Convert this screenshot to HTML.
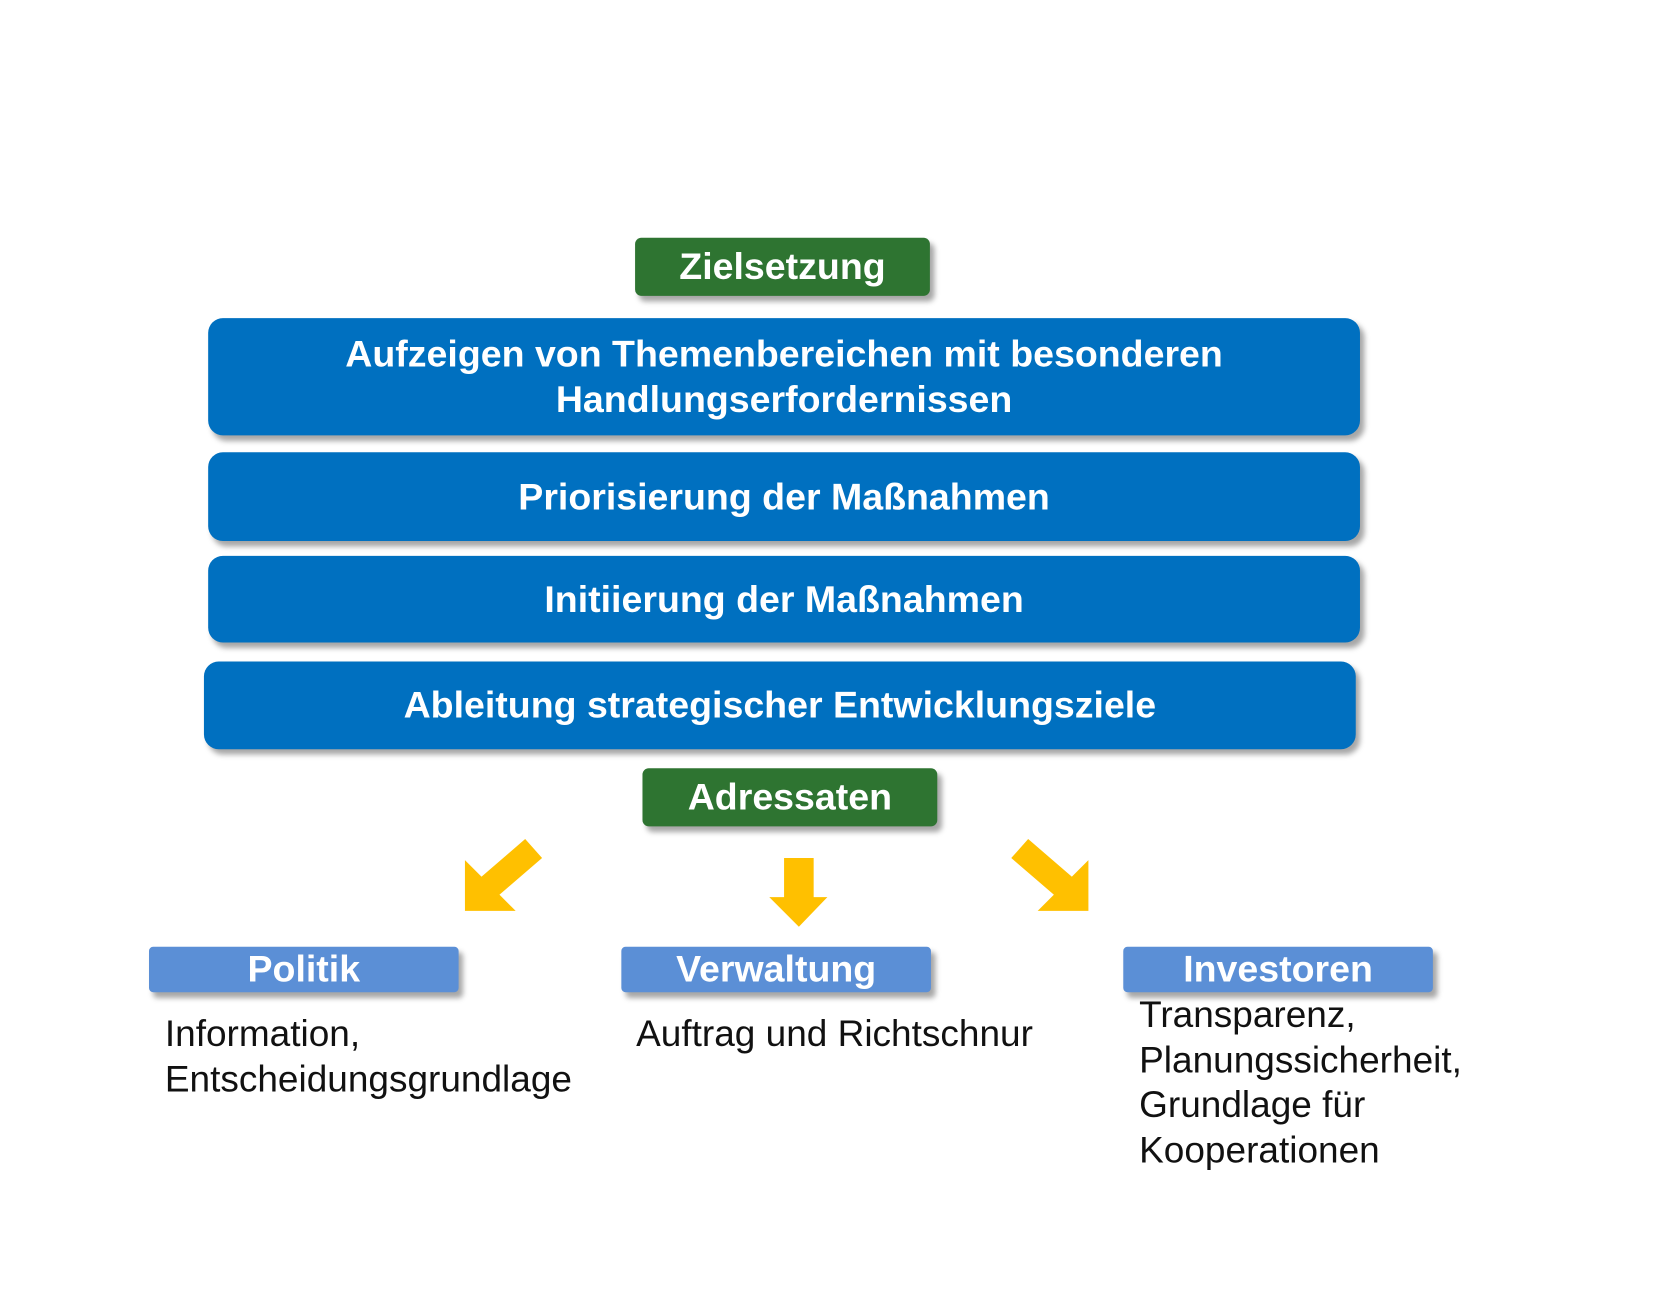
<!DOCTYPE html>
<html><head><meta charset="utf-8"><style>
html,body{margin:0;padding:0;background:#fff;}
body{width:1656px;height:1242px;position:relative;overflow:hidden;font-family:"Liberation Sans",Arial,sans-serif;}
#w{position:absolute;left:0;top:0;width:1656px;height:1242px;transform:scale(1.0567);transform-origin:0 0;}
.b{position:absolute;color:#fff;font-weight:bold;text-align:center;display:flex;align-items:center;justify-content:center;box-shadow:4px 5px 5px rgba(0,0,0,0.35);white-space:nowrap;}
.g{background:#2e7431;border-radius:6px;font-size:35.5px;}
.bl{background:#0070c0;border-radius:14px;font-size:35.5px;line-height:43px;}
.lb{background:#5b8fd6;border-radius:4px;font-size:35.5px;}
.t{position:absolute;font-size:35px;line-height:42.5px;color:#111;white-space:nowrap;}
</style></head><body><div id="w">
<div class="b g" style="left:601px;top:225px;width:279px;height:55px;">Zielsetzung</div>
<div class="b bl" style="left:197px;top:301px;width:1090px;height:111px;">Aufzeigen von Themenbereichen mit besonderen<br>Handlungserfordernissen</div>
<div class="b bl" style="left:197px;top:428px;width:1090px;height:84px;">Priorisierung der Maßnahmen</div>
<div class="b bl" style="left:197px;top:526px;width:1090px;height:82px;">Initiierung der Maßnahmen</div>
<div class="b bl" style="left:193px;top:626px;width:1090px;height:83px;">Ableitung strategischer Entwicklungsziele</div>
<div class="b g" style="left:608px;top:727px;width:279px;height:55px;">Adressaten</div>
<svg style="position:absolute;left:0;top:0" width="1656" height="1242">
<g fill="#ffc000">
<polygon points="440,862 440,814 488,862"/>
<polygon points="453,832 497,794 513,812 470,849"/>
<polygon points="1030,862 1030,814 982,862"/>
<polygon points="1017,832 973,794 957,812 1000,849"/>
<polygon points="742,812 770,812 770,849 783,849 756,877 728,849 742,849"/>
</g></svg>
<div class="b lb" style="left:141px;top:896px;width:293px;height:43px;">Politik</div>
<div class="b lb" style="left:588px;top:896px;width:293px;height:43px;">Verwaltung</div>
<div class="b lb" style="left:1063px;top:896px;width:293px;height:43px;">Investoren</div>
<div class="t" style="left:156px;top:958px;">Information,<br>Entscheidungsgrundlage</div>
<div class="t" style="left:602px;top:958px;">Auftrag und Richtschnur</div>
<div class="t" style="left:1078px;top:940px;">Transparenz,<br>Planungssicherheit,<br>Grundlage für<br>Kooperationen</div>
</div></body></html>
